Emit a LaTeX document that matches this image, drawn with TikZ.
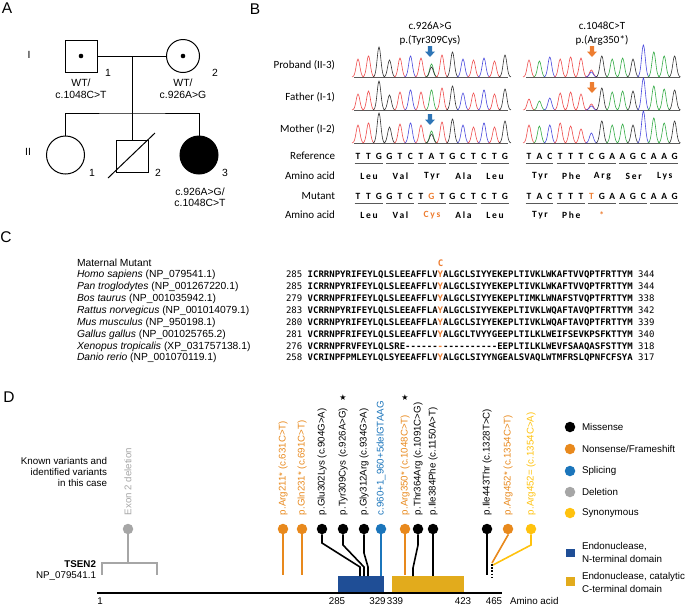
\documentclass[tikz,border=0pt]{standalone}
\usepackage{fontspec}
\setmainfont{Liberation Sans}
\newfontfamily\calfont{Carlito}
\newfontfamily\calsp[LetterSpace=18]{Carlito}
\newfontfamily\monofont{DejaVu Sans Mono}
\newfontfamily\dvfont{DejaVu Sans}
\definecolor{borange}{HTML}{ED7D31}
\definecolor{bblue}{HTML}{2E75B6}
\definecolor{dorange}{HTML}{E8891D}
\definecolor{dblue}{HTML}{1B75BB}
\definecolor{dgray}{HTML}{A6A6A6}
\definecolor{dyellow}{HTML}{FFC20E}
\definecolor{nterm}{HTML}{1F4E96}
\definecolor{cterm}{HTML}{E2AB1C}
\definecolor{tred}{HTML}{EE4B4B}
\definecolor{tgreen}{HTML}{33AA44}
\definecolor{tblue}{HTML}{4848DD}
\definecolor{tblack}{HTML}{333333}
\definecolor{ulgray}{HTML}{595959}
\newcommand\pk[4]{\draw[#4, line width=0.6pt] plot[domain=-6:6, samples=15, smooth] ({#1+\x},{#2-#3*exp(0-(\x/2.6)*(\x/2.6))});}
\newcommand\barrow[3]{\fill[#3] (#1-2.2,#2) -- (#1+2.2,#2) -- (#1+2.2,#2+5.5) -- (#1+5,#2+5.5) -- (#1,#2+11) -- (#1-5,#2+5.5) -- (#1-2.2,#2+5.5) -- cycle;}
\newcommand\dsh{{-}}
\begin{document}
\begin{tikzpicture}[x=1pt,y=-1pt,
  every node/.style={inner sep=0pt, outer sep=0pt},
  plab/.style={font=\fontsize{15.5}{17}\selectfont},
  ped/.style={font=\fontsize{10.4}{12}\selectfont},
  sq/.style={draw, line width=1pt, minimum size=32pt},
  circ/.style={draw, circle, line width=1pt},
  pline/.style={line width=1pt},
  bl/.style={font=\calfont\fontsize{11}{13}\selectfont},
  nt/.style={font=\calfont\bfseries\fontsize{9.5}{11}\selectfont},
  aa/.style={font=\calsp\bfseries\fontsize{9.5}{11}\selectfont},
  ul/.style={draw=ulgray, line width=0.9pt},
  trbase/.style={draw=gray!70!black, line width=0.5pt},
  spn/.style={font=\fontsize{10.3}{12}\selectfont, anchor=west},
  seqrow/.style={font=\monofont\fontsize{9}{11}\selectfont, anchor=west},
  dtxt/.style={font=\fontsize{9.8}{11.5}\selectfont},
  vlab/.style={font=\fontsize{9.7}{11}\selectfont, rotate=90, anchor=west},
  vdot/.style={circle, minimum size=10.5pt},
  vline/.style={line width=1.6pt},
]
\useasboundingbox (0,0) rectangle (685,606);

% ---------- panel letters
\node[plab] (la) at (7,8) {A};
\node[plab] (lb) at (255,9) {B};
\node[plab] (lc) at (6,237) {C};
\node[plab] (ld) at (9,397) {D};

% ---------- panel A pedigree
\node[ped] (g1) at (29,55) {I};
\node[ped] (g2) at (28,152) {II};
\node[sq] (p11) at (81,56) {};
\node[circ, minimum size=33pt] (p12) at (183,56) {};
\fill (p11.center) circle (2.3);
\fill (p12.center) circle (2.3);
\draw[pline] (p11.east) -- (p12.west);
\coordinate (mm) at (132,56);
\coordinate (ss) at (132,113);
\draw[pline] (mm) -- (ss);
\node[circ, minimum size=38pt] (p21) at (65.5,155) {};
\node[sq] (p22) at (132,156) {};
\node[circ, fill=black, minimum size=38pt] (p23) at (199,155) {};
\draw[pline] (p21.north) |- (ss) -| (p23.north);
\draw[pline] (ss) -- (p22.north);
\draw[pline] (108,178) -- (155,133);
\node[ped] (n11) at (108,73) {1};
\node[ped] (n12) at (215,73) {2};
\node[ped] (n21) at (92,173) {1};
\node[ped] (n22) at (158,173) {2};
\node[ped] (n23) at (225,173) {3};
\node[ped] (t1a) at (81,83) {WT/};
\node[ped] (t1b) at (81,95) {c.1048C>T};
\node[ped] (t2a) at (183,83) {WT/};
\node[ped] (t2b) at (183,95) {c.926A>G};
\node[ped] (t3a) at (200,192) {c.926A>G/};
\node[ped] (t3b) at (200,203) {c.1048C>T};

% ---------- panel B
\node[bl] (h1a) at (430,26) {c.926A>G};
\node[bl] (h1b) at (430,40) {p.(Tyr309Cys)};
\node[bl] (h2a) at (602,26) {c.1048C>T};
\node[bl] (h2b) at (602,40) {p.(Arg350*)};
\node[bl, anchor=east] (r1) at (335,65) {Proband (II-3)};
\node[bl, anchor=east] (r2) at (335,97) {Father (I-1)};
\node[bl, anchor=east] (r3) at (335,129) {Mother (I-2)};
\node[bl, anchor=east] (r4) at (335,156) {Reference};
\node[bl, anchor=east] (r5) at (335,176) {Amino acid};
\node[bl, anchor=east] (r6) at (335,196) {Mutant};
\node[bl, anchor=east] (r7) at (335,215) {Amino acid};

% baselines
\foreach \yb in {77,110,143} {
  \draw[trbase] (354,\yb) -- (508,\yb);
  \draw[trbase] (526,\yb) -- (680,\yb);
}
% left traces
\foreach \i/\h/\c in {0/18/tred,1/21/tred,2/30/tblack,3/17/tblack,4/19/tred,5/21/tblue,6/19/tred,7/13/tgreen,7/10/tblack,8/22/tred,9/25/tblack,10/18/tblue,11/17/tred,12/19/tblue,13/16/tred,14/22/tblack}
  {\pk{358+10.5*\i}{77}{\h}{\c}}
\foreach \i/\h/\c in {0/16/tred,1/19/tred,2/29/tblack,3/15/tblack,4/18/tred,5/20/tblue,6/18/tred,7/20/tgreen,8/22/tred,9/24/tblack,10/17/tblue,11/17/tred,12/20/tblue,13/16/tred,14/21/tblack}
  {\pk{358+10.5*\i}{110}{\h}{\c}}
\foreach \i/\h/\c in {0/18/tred,1/20/tred,2/30/tblack,3/16/tblack,4/19/tred,5/20/tblue,6/18/tred,7/12/tgreen,7/9/tblack,8/21/tred,9/24/tblack,10/18/tblue,11/16/tred,12/20/tblue,13/16/tred,14/22/tblack}
  {\pk{358+10.5*\i}{143}{\h}{\c}}
% right traces
\foreach \i/\h/\c in {0/17/tred,1/16/tgreen,2/20/tblue,3/18/tred,4/20/tred,5/19/tred,6/7/tred,6/5/tblue,7/21/tblack,8/18/tgreen,9/19/tgreen,10/18/tblack,11/32/tblue,12/25/tgreen,13/21/tgreen,14/21/tblack}
  {\pk{529+10.4*\i}{77}{\h}{\c}}
\foreach \i/\h/\c in {0/11/tred,1/9/tgreen,2/12/tblue,3/17/tred,4/18/tred,5/16/tred,6/6/tred,6/4/tblue,7/22/tblack,8/18/tgreen,9/19/tgreen,10/19/tblack,11/32/tblue,12/24/tgreen,13/21/tgreen,14/20/tblack}
  {\pk{529+10.4*\i}{110}{\h}{\c}}
\foreach \i/\h/\c in {0/18/tred,1/17/tgreen,2/18/tblue,3/20/tred,4/17/tred,5/14/tred,6/10/tblue,7/22/tblack,8/18/tgreen,9/19/tgreen,10/18/tblack,11/32/tblue,12/25/tgreen,13/20/tgreen,14/22/tblack}
  {\pk{529+10.4*\i}{143}{\h}{\c}}
% arrows
\barrow{430}{46}{bblue}
\barrow{430}{114}{bblue}
\barrow{592}{46}{borange}
\barrow{592}{82}{borange}

% reference sequence
\foreach \b [count=\i from 0] in {T,T,G,G,T,C,T,A,T,G,C,T,C,T,G}
  \node[nt] at (358+10.5*\i,156) {\b};
\foreach \b [count=\i from 0] in {T,A,C,T,T,T,C,G,A,A,G,C,A,A,G}
  \node[nt] at (529+10.4*\i,156) {\b};
\foreach \b/\c [count=\i from 0] in {T/black,T/black,G/black,G/black,T/black,C/black,T/black,G/borange,T/black,G/black,C/black,T/black,C/black,T/black,G/black}
  \node[nt, text=\c] at (358+10.5*\i,196) {\b};
\foreach \b/\c [count=\i from 0] in {T/black,A/black,C/black,T/black,T/black,T/black,T/borange,G/black,A/black,A/black,G/black,C/black,A/black,A/black,G/black}
  \node[nt, text=\c] at (529+10.4*\i,196) {\b};
\foreach \k in {0,...,4} {
  \draw[ul] (358+31.5*\k-3.5,163.5) -- (358+31.5*\k+24.5,163.5);
  \draw[ul] (529+31.2*\k-3.5,163.5) -- (529+31.2*\k+24.3,163.5);
  \draw[ul] (358+31.5*\k-3.5,203.5) -- (358+31.5*\k+24.5,203.5);
  \draw[ul] (529+31.2*\k-3.5,203.5) -- (529+31.2*\k+24.3,203.5);
}
\foreach \a [count=\k from 0] in {Leu,Val,Tyr,Ala,Leu}
  \node[aa] at (369+31.5*\k,176) {\a};
\foreach \a [count=\k from 0] in {Tyr,Phe,Arg,Ser,Lys}
  \node[aa] at (540+31.2*\k,176) {\a};
\foreach \a/\c [count=\k from 0] in {Leu/black,Val/black,Cys/borange,Ala/black,Leu/black}
  \node[aa, text=\c] at (369+31.5*\k,215) {\a};
\node[aa] (mt1) at (540,215) {Tyr};
\node[aa] (mt2) at (571.2,215) {Phe};
\node[aa, text=borange] (mt3) at (601.8,215) {*};

% ---------- panel C
\node[spn] (c0) at (77,263) {Maternal Mutant};
\node[seqrow, text=borange] (cy) at (437.8,263) {\textbf{C}};
\node[spn] (c1) at (77,275) {\textit{Homo sapiens} (NP\_079541.1)};
\node[spn] (c2) at (77,287) {\textit{Pan troglodytes} (NP\_001267220.1)};
\node[spn] (c3) at (77,299) {\textit{Bos taurus} (NP\_001035942.1)};
\node[spn] (c4) at (77,311) {\textit{Rattus norvegicus} (NP\_001014079.1)};
\node[spn] (c5) at (77,323) {\textit{Mus musculus} (NP\_950198.1)};
\node[spn] (c6) at (77,335) {\textit{Gallus gallus} (NP\_001025765.2)};
\node[spn] (c7) at (77,346.5) {\textit{Xenopus tropicalis} (XP\_031757138.1)};
\node[spn] (c8) at (77,358) {\textit{Danio rerio} (NP\_001070119.1)};
\node[seqrow] (s1) at (286,275) {285 \textbf{ICRRNPYRIFEYLQLSLEEAFFLV\textcolor{borange}{Y}ALGCLSIYYEKEPLTIVKLWKAFTVVQPTFRTTYM} 344};
\node[seqrow] (s2) at (286,287) {285 \textbf{ICRRNPYRIFEYLQLSLEEAFFLV\textcolor{borange}{Y}ALGCLSIYYEKEPLTIVKLWKAFTVVQPTFRTTYM} 344};
\node[seqrow] (s3) at (286,299) {279 \textbf{VCRRNPFRIFEYLQLSLEEAFFLV\textcolor{borange}{Y}ALGCLSIYYEKEPLTIMKLWNAFSTVQPTFRTTYM} 338};
\node[seqrow] (s4) at (286,311) {283 \textbf{VCRRNPYRIFEYLQLSLEEAFFLA\textcolor{borange}{Y}ALGCLSIYYEKEPLTIVKLWQAFTAVQPTFRTTYM} 342};
\node[seqrow] (s5) at (286,323) {280 \textbf{VCRRNPYRIFEYLQLSLEEAFFLA\textcolor{borange}{Y}ALGCLSIYYEKEPLTIVKLWQAFTAVQPTFRTTYM} 339};
\node[seqrow] (s6) at (286,335) {281 \textbf{VCRRNPFRIFEYLQLSLEEAFFLV\textcolor{borange}{Y}ALGCLTVYYGEEPLTILKLWEIFSEVKPSFKTTYM} 340};
\node[seqrow] (s7) at (286,346.5) {276 \textbf{VCRRNPFRVFEYLQLSRE\dsh\dsh\dsh\dsh\dsh\dsh\textcolor{borange}{\dsh}\dsh\dsh\dsh\dsh\dsh\dsh\dsh\dsh\dsh\dsh EEPLTILKLWEVFSAAQASFSTTYM} 318};
\node[seqrow] (s8) at (286,358) {258 \textbf{VCRINPFPMLEYLQLSYEEAFFLV\textcolor{borange}{Y}ALGCLSIYYNGEALSVAQLWTMFRSLQPNFCFSYA} 317};

% ---------- panel D
\node[dtxt, anchor=east] (kv1) at (107,461) {Known variants and};
\node[dtxt, anchor=east] (kv2) at (107,472) {identified variants};
\node[dtxt, anchor=east] (kv3) at (107,483) {in this case};
\node[dtxt, font=\bfseries\fontsize{9.8}{11.5}\selectfont, anchor=east] (ts) at (96,564) {TSEN2};
\node[dtxt, anchor=east] (np) at (96,576) {NP\_079541.1};

\node[fill=nterm, minimum width=46pt, minimum height=16pt] (nd) at (361,584) {};
\node[fill=cterm, minimum width=72pt, minimum height=16pt] (cd) at (428,584) {};
\coordinate (ax0) at (97,593);
\coordinate (ax1) at (502,593);
\draw[line width=2pt] (ax0) -- (ax1);
\node[dtxt] (a1) at (100,601) {1};
\node[dtxt] (a2) at (337,601) {285};
\node[dtxt] (a3) at (377.5,601) {329};
\node[dtxt] (a4) at (395,601) {339};
\node[dtxt] (a5) at (463,601) {423};
\node[dtxt] (a6) at (494,601) {465};
\node[dtxt, anchor=west] (a7) at (510,600.5) {Amino acid};

% labels
\node[vlab, text=dgray] (lx) at (128,515) {Exon 2 deletion};
\node[vlab, text=dorange] (l1) at (283,515) {p.Arg211* (c.631C>T)};
\node[vlab, text=dorange] (l2) at (302,515) {p.Gln231* (c.691C>T)};
\node[vlab] (l3) at (322,515) {p.Glu302Lys (c.904G>A)};
\node[vlab] (l4) at (343,515) {p.Tyr309Cys (c.926A>G)};
\node[vlab] (l5) at (364,515) {p.Gly312Arg (c.934G>A)};
\node[vlab, text=dblue] (l6) at (381,515) {c.960+1\_960+5delGTAAG};
\node[vlab, text=dorange] (l7) at (405,515) {p.Arg350* (c.1048C>T)};
\node[vlab] (l8) at (418,515) {p.Thr364Arg (c.1091C>G)};
\node[vlab] (l9) at (433,515) {p.Ile384Phe (c.1150A>T)};
\node[vlab] (l10) at (487,515) {p.Ile443Thr (c.1328T>C)};
\node[vlab, text=dorange] (l11) at (508,515) {p.Arg452* (c.1354C>T)};
\node[vlab, text=dyellow] (l12) at (531,515) {p.Arg452= (c.1354C>A)};
\node[font=\dvfont\fontsize{8}{8}\selectfont] (st1) at (343,398) {★};
\node[font=\dvfont\fontsize{8}{8}\selectfont] (st2) at (405,398) {★};

% dots
\node[vdot, fill=dgray] (ex) at (128,529) {};
\node[vdot, fill=dorange] (v1) at (283,529) {};
\node[vdot, fill=dorange] (v2) at (302,529) {};
\node[vdot, fill=black] (v3) at (322,529) {};
\node[vdot, fill=black] (v4) at (343,529) {};
\node[vdot, fill=black] (v5) at (364,529) {};
\node[vdot, fill=dblue] (v6) at (381,529) {};
\node[vdot, fill=dorange] (v7) at (405,529) {};
\node[vdot, fill=black] (v8) at (418,529) {};
\node[vdot, fill=black] (v9) at (433,529) {};
\node[vdot, fill=black] (v10) at (487,529) {};
\node[vdot, fill=dorange] (v11) at (508,529) {};
\node[vdot, fill=dyellow] (v12) at (531,529) {};

% connectors
\draw[vline, draw=dgray] (ex) -- (128,563);
\draw[vline, draw=dgray] (102,575) -- (102,563) -- (157,563) -- (157,575);
\draw[vline, draw=dorange] (v1) -- (283,575);
\draw[vline, draw=dorange] (v2) -- (302,575);
\draw[vline] (v3) -- (322,543) -- (360,567) -- (360,576);
\draw[vline] (v4) -- (343,545) -- (364,567) -- (364,576);
\draw[vline] (v5) -- (364,553) -- (368,567) -- (368,576);
\draw[vline, draw=dblue] (v6) -- (381,576);
\draw[vline, draw=dorange] (v7) -- (405,575);
\draw[vline] (v8) -- (418,545) -- (413,568) -- (413,576);
\draw[vline] (v9) -- (433,576);
\draw[vline] (v10) -- (487,575);
\draw[vline, draw=dorange] (v11) -- (508,535) -- (492,563);
\draw[vline, draw=dyellow] (v12) -- (531,545) -- (493,565);
\draw[line width=1.8pt, dash pattern=on 1.6pt off 1.6pt] (492,564) -- (492,577);

% legend
\node[vdot, fill=black] (g1d) at (570,427) {};
\node[vdot, fill=dorange] (g2d) at (570,449) {};
\node[vdot, fill=dblue] (g3d) at (570,471) {};
\node[vdot, fill=dgray] (g4d) at (570,492) {};
\node[vdot, fill=dyellow] (g5d) at (570,513) {};
\node[dtxt, anchor=west] (g1t) at (582,427) {Missense};
\node[dtxt, anchor=west] (g2t) at (582,449) {Nonsense/Frameshift};
\node[dtxt, anchor=west] (g3t) at (582,471) {Splicing};
\node[dtxt, anchor=west] (g4t) at (582,492) {Deletion};
\node[dtxt, anchor=west] (g5t) at (582,513) {Synonymous};
\node[fill=nterm, minimum size=8.5pt] (q1) at (570.5,553) {};
\node[fill=cterm, minimum size=8.5pt] (q2) at (570.5,581.5) {};
\node[dtxt, anchor=west] (q1a) at (582,547) {Endonuclease,};
\node[dtxt, anchor=west] (q1b) at (582,558.5) {N-terminal domain};
\node[dtxt, anchor=west] (q2a) at (582,577) {Endonuclease, catalytic};
\node[dtxt, anchor=west] (q2b) at (582,588.5) {C-terminal domain};
\end{tikzpicture}
\end{document}
